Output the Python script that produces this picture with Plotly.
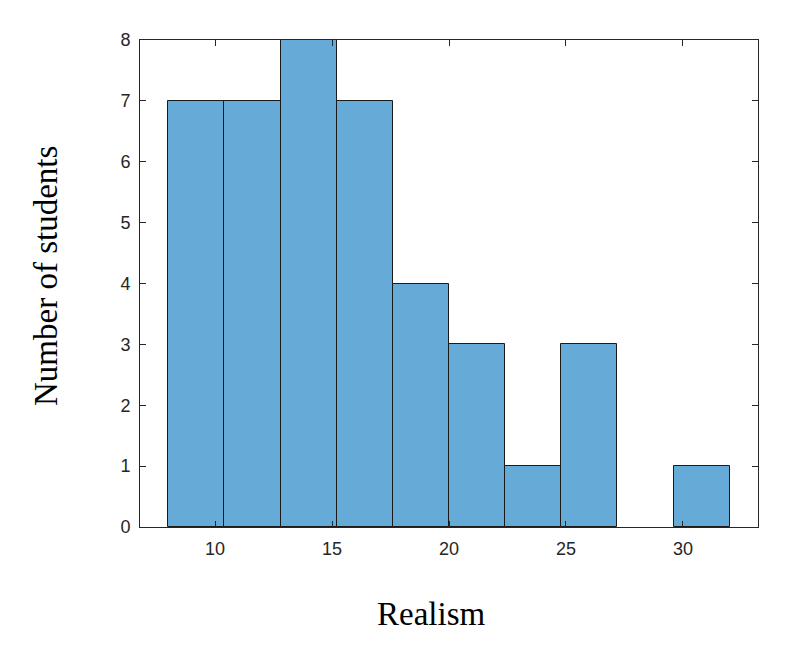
import plotly.graph_objects as go

# Histogram data
bin_start = 8.0
bin_width = 2.4
counts = [7, 7, 8, 7, 4, 3, 1, 3, 0, 1]
x_ticks = [10, 15, 20, 25, 30]
y_ticks = [0, 1, 2, 3, 4, 5, 6, 7, 8]

centers = [bin_start + bin_width * (i + 0.5) for i in range(len(counts))]
line_widths = [1 if c > 0 else 0 for c in counts]

fig = go.Figure()
fig.add_trace(go.Bar(
    x=centers, y=counts, width=[bin_width] * len(counts),
    marker=dict(color="rgb(102,170,215)", line=dict(color="#1a1a1a", width=line_widths)),
    hoverinfo="skip",
))

axis_common = dict(
    showline=True, linecolor="#262626", linewidth=1, mirror="ticks",
    ticks="inside", ticklen=6, tickcolor="#262626", tickwidth=1,
    showgrid=False, zeroline=False,
    tickfont=dict(family="Liberation Sans, Arial", size=18, color="#262626"),
)

fig.update_layout(
    width=800, height=659,
    margin=dict(l=140, r=42, t=40, b=132),
    paper_bgcolor="white", plot_bgcolor="white",
    bargap=0, showlegend=False,
    xaxis=dict(range=[6.79, 33.21], tickvals=x_ticks, ticklabelstandoff=5, **axis_common),
    yaxis=dict(range=[0, 8], tickvals=y_ticks, ticklabelstandoff=5, **axis_common),
    annotations=[
        dict(text="Realism", xref="paper", yref="paper", x=(431 - 140) / 618, y=-(614 - 527) / 487,
             showarrow=False, xanchor="center", yanchor="middle",
             font=dict(family="Liberation Serif, Times New Roman", size=33, color="black")),
        dict(text="Number of students", xref="paper", yref="paper", x=-(140 - 46) / 618, y=(527 - 276) / 487,
             showarrow=False, xanchor="center", yanchor="middle", textangle=-90,
             font=dict(family="Liberation Serif, Times New Roman", size=33, color="black")),
    ],
)

fig.write_html("out.html")
